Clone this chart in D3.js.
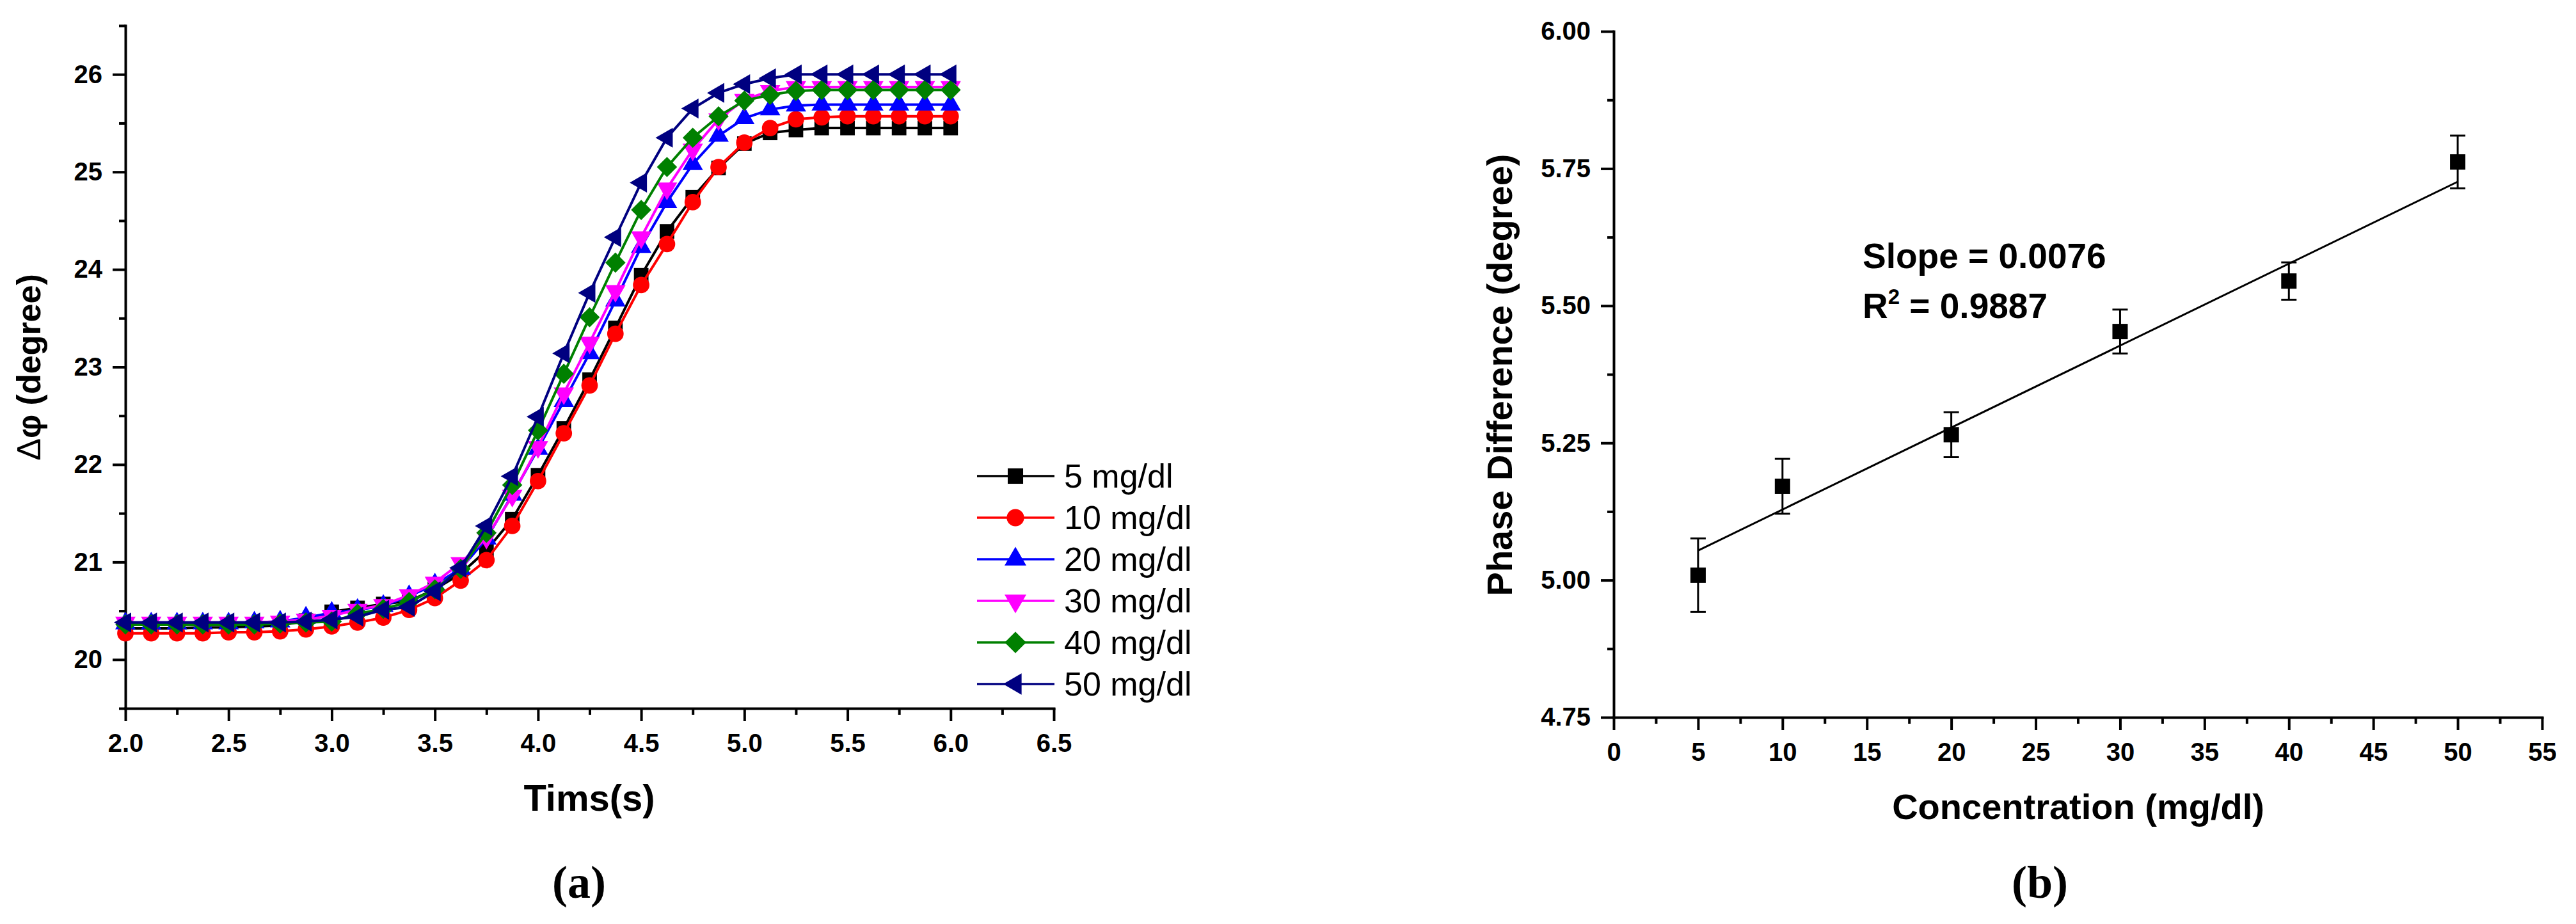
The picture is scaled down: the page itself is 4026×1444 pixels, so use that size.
<!DOCTYPE html>
<html>
<head>
<meta charset="utf-8">
<script src="https://cdn.jsdelivr.net/npm/d3@7/dist/d3.min.js"></script>
<style>
body{margin:0;background:#fff;}
text{font-family:"Liberation Sans",Arial,sans-serif;fill:#000;}
</style>
</head>
<body>
<script>
// ---- panel (a) data ----
var times = [2.0,2.125,2.25,2.375,2.5,2.625,2.75,2.875,3.0,3.125,3.25,3.375,3.5,3.625,3.75,3.875,
             4.0,4.125,4.25,4.375,4.5,4.625,4.75,4.875,5.0,5.125,5.25,5.375,5.5,5.625,5.75,5.875,6.0];
var seriesNames = ["5 mg/dl","10 mg/dl","20 mg/dl","30 mg/dl","40 mg/dl","50 mg/dl"];
var s5  = [20.32,20.32,20.32,20.33,20.33,20.34,20.35,20.40,20.49,20.53,20.57,20.60,20.72,20.88,21.12,21.44,
           21.89,22.37,22.87,23.40,23.94,24.39,24.74,25.04,25.29,25.40,25.43,25.45,25.45,25.45,25.45,25.45,25.45];
var s10 = [20.27,20.27,20.27,20.27,20.28,20.28,20.29,20.31,20.34,20.38,20.43,20.51,20.63,20.81,21.02,21.37,
           21.83,22.32,22.81,23.34,23.84,24.26,24.69,25.05,25.30,25.45,25.54,25.56,25.57,25.57,25.57,25.57,25.57];
var s20 = [20.37,20.37,20.37,20.37,20.37,20.38,20.39,20.43,20.48,20.51,20.55,20.65,20.77,20.93,21.24,21.69,
           22.16,22.65,23.14,23.68,24.23,24.69,25.08,25.37,25.55,25.64,25.68,25.69,25.69,25.69,25.69,25.69,25.69];
var s30 = [20.38,20.38,20.38,20.38,20.38,20.38,20.39,20.41,20.45,20.51,20.56,20.66,20.79,20.99,21.25,21.68,
           22.18,22.73,23.25,23.78,24.33,24.83,25.23,25.54,25.74,25.83,25.87,25.87,25.87,25.87,25.87,25.87,25.87];
var s40 = [20.36,20.36,20.36,20.36,20.36,20.36,20.37,20.38,20.39,20.47,20.52,20.59,20.72,20.93,21.30,21.79,
           22.35,22.93,23.51,24.07,24.61,25.05,25.35,25.57,25.73,25.79,25.83,25.84,25.84,25.84,25.84,25.84,25.84];
var s50 = [20.38,20.38,20.38,20.38,20.38,20.38,20.38,20.39,20.41,20.44,20.51,20.54,20.70,20.94,21.37,21.88,
           22.49,23.14,23.76,24.33,24.89,25.35,25.65,25.81,25.90,25.96,26.00,26.00,26.00,26.00,26.00,26.00,26.00];
var seriesColors = ["#000000","#ff0000","#0000ff","#ff00ff","#008000","#000080"];

var xTicksA = [2.0,2.5,3.0,3.5,4.0,4.5,5.0,5.5,6.0,6.5];
var xMinorA = [2.25,2.75,3.25,3.75,4.25,4.75,5.25,5.75,6.25];
var yTicksA = [20,21,22,23,24,25,26];
var yMinorA = [19.5,20.5,21.5,22.5,23.5,24.5,25.5,26.5];

// ---- panel (b) data ----
var conc = [5,10,20,30,40,50];
var phaseDiff = [5.009,5.171,5.265,5.453,5.545,5.762];
var phaseErr = [0.067,0.050,0.041,0.040,0.034,0.048];
var fitX = [5,50];
var fitY = [5.054,5.726];
var xTicksB = [0,5,10,15,20,25,30,35,40,45,50,55];
var xMinorB = [2.5,7.5,12.5,17.5,22.5,27.5,32.5,37.5,42.5,47.5,52.5];
var yTicksB = [4.75,5.00,5.25,5.50,5.75,6.00];
var yMinorB = [4.875,5.125,5.375,5.625,5.875];

function init(){
    var w = 4026, h = 1444;
    var svg = d3.select("body").append("svg")
        .attr("width", w)
        .attr("height", h);

    // scales
    var xA = d3.scaleLinear().domain([2.0, 6.5]).range([196, 1647]);
    var yA = d3.scaleLinear().domain([19.5, 26.5]).range([1107, 40]);
    var xB = d3.scaleLinear().domain([0, 55]).range([2522, 3973]);
    var yB = d3.scaleLinear().domain([4.75, 6.00]).range([1121, 49]);

    function styleAxis(g){
        g.selectAll(".domain").attr("stroke-width", 4).attr("stroke-linecap", "square");
        g.selectAll(".tick line").attr("stroke-width", 4);
        g.selectAll(".tick text")
            .attr("font-size", 40)
            .attr("font-weight", "bold")
            .attr("font-family", "'Liberation Sans', Arial, sans-serif");
    }

    function drawAxes(xs, ys, xMaj, xMin, yMaj, yMin, xFmt, yFmt){
        var y0 = ys.range()[0], x0 = xs.range()[0];
        var gx = svg.append("g").attr("transform", "translate(0," + y0 + ")")
            .call(d3.axisBottom(xs).tickValues(xMaj).tickFormat(d3.format(xFmt))
                .tickSize(20).tickSizeOuter(0).tickPadding(20));
        styleAxis(gx);
        var gxm = svg.append("g").attr("transform", "translate(0," + y0 + ")")
            .call(d3.axisBottom(xs).tickValues(xMin).tickFormat("").tickSize(10));
        gxm.select(".domain").remove();
        styleAxis(gxm);

        var gy = svg.append("g").attr("transform", "translate(" + x0 + ",0)")
            .call(d3.axisLeft(ys).tickValues(yMaj).tickFormat(d3.format(yFmt))
                .tickSize(20).tickSizeOuter(0).tickPadding(16));
        styleAxis(gy);
        var gym = svg.append("g").attr("transform", "translate(" + x0 + ",0)")
            .call(d3.axisLeft(ys).tickValues(yMin).tickFormat("").tickSize(10));
        gym.select(".domain").remove();
        styleAxis(gym);
    }

    // ===== panel (a) =====
    drawAxes(xA, yA, xTicksA, xMinorA, yTicksA, yMinorA, ".1f", "d");

    var allSeries = [s5, s10, s20, s30, s40, s50];
    var shapes = [d3.symbolSquare, d3.symbolCircle, d3.symbolTriangle, d3.symbolTriangle, d3.symbolSquare, d3.symbolTriangle];
    var rots = [0, 0, 0, 180, 45, -90];
    var sizes = [520, 520, 440, 440, 500, 420];

    var line = d3.line()
        .x(function(d){ return xA(d[0]); })
        .y(function(d){ return yA(d[1]); });

    allSeries.forEach(function(vals, k){
        var pts = times.map(function(t, i){ return [t, vals[i]]; });
        var g = svg.append("g");
        g.append("path")
            .attr("d", line(pts))
            .attr("fill", "none")
            .attr("stroke", seriesColors[k])
            .attr("stroke-width", 4);
        g.selectAll("path.m")
            .data(pts)
            .enter()
            .append("path")
            .attr("class", "m")
            .attr("d", d3.symbol().type(shapes[k]).size(sizes[k]))
            .attr("transform", function(d){
                return "translate(" + xA(d[0]) + "," + yA(d[1]) + ") rotate(" + rots[k] + ")";
            })
            .attr("fill", seriesColors[k]);
    });

    // legend
    var leg = svg.append("g");
    seriesNames.forEach(function(name, k){
        var cy = 744 + k * 65;
        leg.append("line")
            .attr("x1", 1527).attr("x2", 1648)
            .attr("y1", cy).attr("y2", cy)
            .attr("stroke", seriesColors[k])
            .attr("stroke-width", 3.5);
        leg.append("path")
            .attr("d", d3.symbol().type(shapes[k]).size(sizes[k] + 60))
            .attr("transform", "translate(1587," + cy + ") rotate(" + rots[k] + ")")
            .attr("fill", seriesColors[k]);
        leg.append("text")
            .attr("x", 1663)
            .attr("y", cy + 18)
            .attr("font-size", 52)
            .text(name);
    });

    // axis titles (a)
    var ty = svg.append("text")
        .attr("transform", "translate(63,574) rotate(-90)")
        .attr("text-anchor", "middle")
        .attr("font-size", 52)
        .attr("font-weight", "bold");
    ty.append("tspan").attr("font-weight", "normal").text("Δ");
    ty.append("tspan").text("φ (degree)");

    svg.append("text")
        .attr("x", 921).attr("y", 1267)
        .attr("text-anchor", "middle")
        .attr("font-size", 58)
        .attr("font-weight", "bold")
        .text("Tims(s)");

    svg.append("text")
        .attr("x", 905).attr("y", 1403)
        .attr("text-anchor", "middle")
        .attr("font-size", 72)
        .attr("font-weight", "bold")
        .style("font-family", "'Liberation Serif', 'Times New Roman', serif")
        .text("(a)");

    // ===== panel (b) =====
    drawAxes(xB, yB, xTicksB, xMinorB, yTicksB, yMinorB, "d", ".2f");

    var bdata = conc.map(function(c, i){ return {x: c, y: phaseDiff[i], e: phaseErr[i]}; });

    // fit line
    svg.append("line")
        .attr("x1", xB(fitX[0])).attr("y1", yB(fitY[0]))
        .attr("x2", xB(fitX[1])).attr("y2", yB(fitY[1]))
        .attr("stroke", "#000")
        .attr("stroke-width", 3);

    var eb = svg.append("g").attr("stroke", "#000").attr("stroke-width", 3);
    eb.selectAll("line.v").data(bdata).enter().append("line")
        .attr("x1", function(d){ return xB(d.x); })
        .attr("x2", function(d){ return xB(d.x); })
        .attr("y1", function(d){ return yB(d.y + d.e); })
        .attr("y2", function(d){ return yB(d.y - d.e); });
    eb.selectAll("line.t").data(bdata).enter().append("line")
        .attr("x1", function(d){ return xB(d.x) - 12; })
        .attr("x2", function(d){ return xB(d.x) + 12; })
        .attr("y1", function(d){ return yB(d.y + d.e); })
        .attr("y2", function(d){ return yB(d.y + d.e); });
    eb.selectAll("line.b").data(bdata).enter().append("line")
        .attr("x1", function(d){ return xB(d.x) - 12; })
        .attr("x2", function(d){ return xB(d.x) + 12; })
        .attr("y1", function(d){ return yB(d.y - d.e); })
        .attr("y2", function(d){ return yB(d.y - d.e); });

    svg.selectAll("rect.pt").data(bdata).enter().append("rect")
        .attr("class", "pt")
        .attr("x", function(d){ return xB(d.x) - 12; })
        .attr("y", function(d){ return yB(d.y) - 12; })
        .attr("width", 24)
        .attr("height", 24)
        .attr("fill", "#000");

    // annotation
    svg.append("text")
        .attr("x", 2911).attr("y", 419)
        .attr("font-size", 55)
        .attr("font-weight", "bold")
        .text("Slope = 0.0076");
    var r2 = svg.append("text")
        .attr("x", 2911).attr("y", 497)
        .attr("font-size", 55)
        .attr("font-weight", "bold");
    r2.append("tspan").text("R");
    r2.append("tspan").attr("font-size", 33).attr("dy", -22).text("2");
    r2.append("tspan").attr("dy", 22).text(" = 0.9887");

    // axis titles (b)
    svg.append("text")
        .attr("transform", "translate(2363,586) rotate(-90)")
        .attr("text-anchor", "middle")
        .attr("font-size", 56)
        .attr("font-weight", "bold")
        .text("Phase Difference (degree)");

    svg.append("text")
        .attr("x", 3248).attr("y", 1280)
        .attr("text-anchor", "middle")
        .attr("font-size", 56)
        .attr("font-weight", "bold")
        .text("Concentration (mg/dl)");

    svg.append("text")
        .attr("x", 3188).attr("y", 1403)
        .attr("text-anchor", "middle")
        .attr("font-size", 72)
        .attr("font-weight", "bold")
        .style("font-family", "'Liberation Serif', 'Times New Roman', serif")
        .text("(b)");
}
window.onload = init;
</script>
</body>
</html>
